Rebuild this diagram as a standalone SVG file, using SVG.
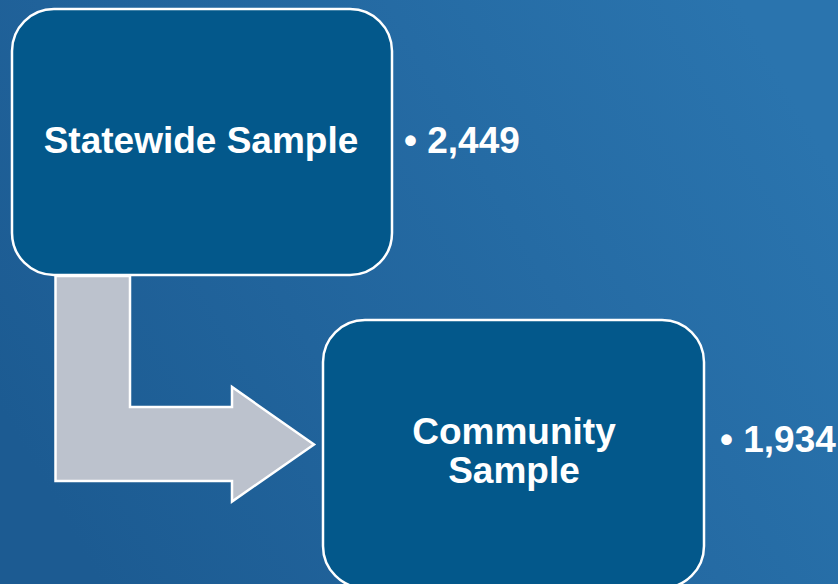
<svg xmlns="http://www.w3.org/2000/svg" width="838" height="584" viewBox="0 0 838 584">
<defs>
<linearGradient id="bg" x1="0" y1="0.7" x2="1" y2="0.3">
<stop offset="0" stop-color="#1c5b92"/>
<stop offset="1" stop-color="#2a74ae"/>
</linearGradient>
<style>
.box{fill:#03588b;stroke:#ffffff;stroke-width:2.5}
.lbl{font-family:"Liberation Sans",Arial,sans-serif;font-weight:bold;fill:#ffffff;font-size:37px}
.arrow{fill:#bcc2cd;stroke:#ffffff;stroke-width:2.5;stroke-linejoin:miter}
</style>
</defs>
<rect width="838" height="584" fill="url(#bg)"/>
<g id="connectors">
<path class="arrow" d="M55.5,276 L130,276 L130,407 L232,407 L232,387 L314,444.5 L232,501.5 L232,481 L55.5,481 Z"/>
</g>
<g id="statewide">
<rect class="box" x="12" y="9" width="380" height="266" rx="42" ry="42"/>
<text class="lbl" x="201" y="153" text-anchor="middle" font-size="38">Statewide Sample</text>
<text class="lbl" x="404" y="153" font-size="36">• 2,449</text>
</g>
<g id="community">
<rect class="box" x="323" y="320" width="381" height="268" rx="42" ry="42"/>
<text class="lbl" x="514" y="444" text-anchor="middle" font-size="37.5">Community</text>
<text class="lbl" x="514" y="483" text-anchor="middle" font-size="37.5">Sample</text>
<text class="lbl" x="720" y="452" font-size="36">• 1,934</text>
</g>
</svg>
